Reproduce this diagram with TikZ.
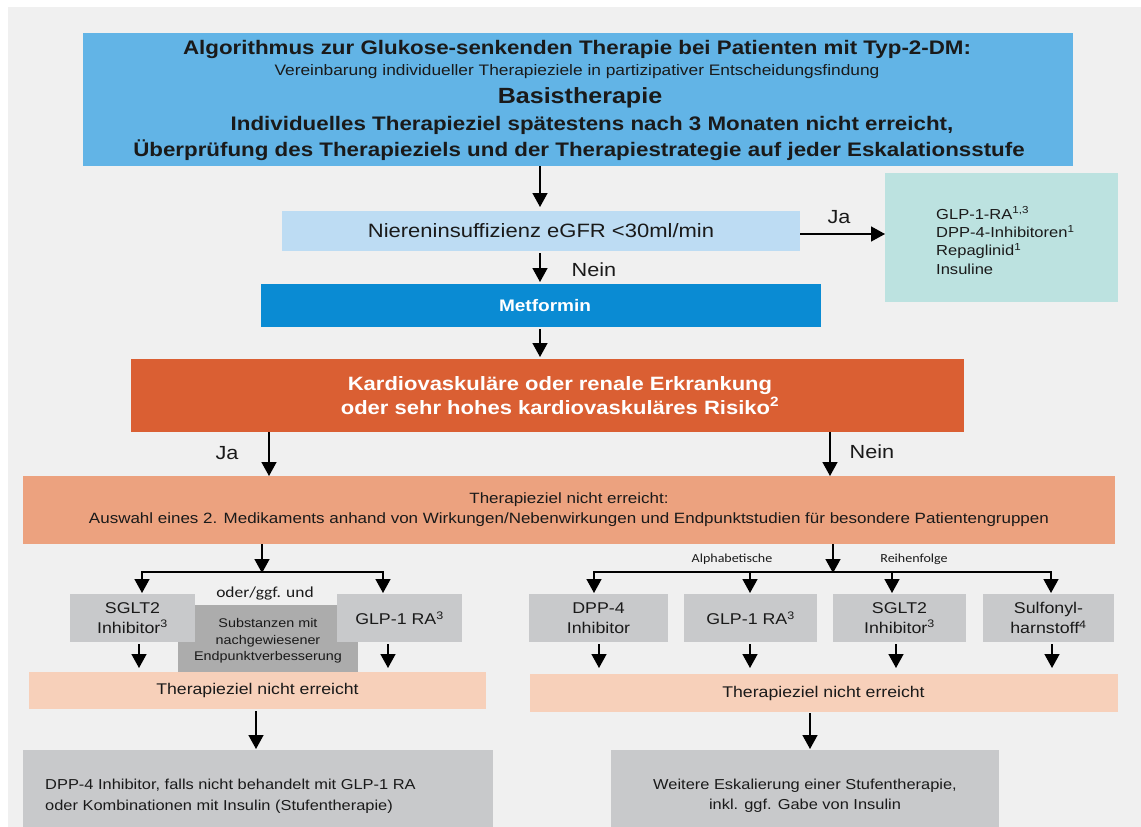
\documentclass[tikz,border=0pt]{standalone}
\usepackage{fontspec}
\setmainfont[FakeStretch=1.14]{Liberation Sans}
\newfontfamily\calibri[FakeStretch=1.14]{Carlito}
\usetikzlibrary{arrows.meta}
\definecolor{bg}{HTML}{F0F0F0}
\definecolor{topblue}{HTML}{62B4E6}
\definecolor{lightblue}{HTML}{BDDCF3}
\definecolor{teal}{HTML}{BCE2E0}
\definecolor{metblue}{HTML}{0A8BD3}
\definecolor{kardio}{HTML}{DA5F33}
\definecolor{orange}{HTML}{ECA27F}
\definecolor{boxgray}{HTML}{C8C9CB}
\definecolor{darkgray}{HTML}{ACACAC}
\definecolor{peach}{HTML}{F7D0BA}
\definecolor{ink}{HTML}{1A1A1A}
\tikzset{
  box/.style={rectangle, inner sep=0pt, outer sep=0pt, draw=none, align=center, text=ink},
  arr/.style={line width=1.5pt, draw=black, -{Triangle[width=15pt,length=14pt]}},
  ln/.style={line width=1.5pt, draw=black},
  lbl/.style={inner sep=0pt, text=ink},
}
\begin{document}
\begin{tikzpicture}[x=1pt,y=-1pt]
\useasboundingbox (0,0) rectangle (1141,827);
\fill[white] (0,0) rectangle (1141,827);
\fill[bg] (8,7) rectangle (1141,827);

% top box
\node[box, fill=topblue, minimum width=990pt, minimum height=133pt] (top) at (578,99.5) {};
\node[lbl, font=\bfseries\fontsize{19.6}{22}\selectfont] (t1) at (577,49) {Algorithmus zur Glukose-senkenden Therapie bei Patienten mit Typ-2-DM:};
\node[lbl, font=\fontsize{15.2}{17}\selectfont] (t2) at (577,72) {Vereinbarung individueller Therapieziele in partizipativer Entscheidungsfindung};
\node[lbl, font=\bfseries\fontsize{22}{24}\selectfont] (t3) at (580,98) {Basistherapie};
\node[lbl, font=\bfseries\fontsize{19.6}{22}\selectfont] (t4) at (592,125) {Individuelles Therapieziel spätestens nach 3 Monaten nicht erreicht,};
\node[lbl, font=\bfseries\fontsize{19.6}{22}\selectfont] (t5) at (579,150) {Überprüfung des Therapieziels und der Therapiestrategie auf jeder Eskalationsstufe};

% niere
\node[box, fill=lightblue, minimum width=518pt, minimum height=40pt, font=\fontsize{19.3}{22}\selectfont] (nier) at (541,231) {Niereninsuffizienz eGFR <30ml/min};
\node[box, fill=teal, minimum width=233pt, minimum height=129pt] (glp) at (1001.5,237.5) {};
\node[lbl, anchor=west, align=left, font=\fontsize{14.5}{18.3}\selectfont] (glpt) at (936,240.5) {GLP-1-RA\textsuperscript{1,3}\\DPP-4-Inhibitoren\textsuperscript{1}\\Repaglinid\textsuperscript{1}\\Insuline};

\node[box, fill=metblue, minimum width=560pt, minimum height=43pt] (met) at (541,305.5) {};
\node[lbl, text=white, font=\bfseries\fontsize{16.7}{19}\selectfont] (mett) at (545,305.5) {Metformin};

\node[box, fill=kardio, minimum width=833pt, minimum height=73pt] (kar) at (547.5,395.5) {};
\node[lbl, text=white, align=center, font=\bfseries\fontsize{19.3}{24}\selectfont] (kart) at (560,395.5) {Kardiovaskuläre oder renale Erkrankung\\oder sehr hohes kardiovaskuläres Risiko\textsuperscript{2}};

\node[box, fill=orange, minimum width=1092pt, minimum height=68pt, font=\fontsize{14.9}{20}\selectfont] (ther) at (569,510) {Therapieziel nicht erreicht:\\Auswahl eines 2. Medikaments anhand von Wirkungen/Nebenwirkungen und Endpunktstudien für besondere Patientengruppen};

% left branch
\node[box, fill=darkgray, minimum width=180pt, minimum height=67pt] (subst) at (268,638.5) {};
\node[lbl, align=center, font=\fontsize{12.6}{16.5}\selectfont] (substt) at (268,641) {Substanzen mit\\nachgewiesener\\Endpunktverbesserung};
\node[box, fill=boxgray, minimum width=125pt, minimum height=48pt, font=\fontsize{15.6}{19.5}\selectfont] (sgltL) at (132.5,618) {SGLT2\\Inhibitor\textsuperscript{3}};
\node[box, fill=boxgray, minimum width=125pt, minimum height=48pt, font=\fontsize{15.6}{19.5}\selectfont] (glpL) at (399.5,618) {GLP-1 RA\textsuperscript{3}};
\node[lbl, font=\calibri\fontsize{15.3}{17}\selectfont] (oder) at (265,593) {oder/ggf. und};
\node[box, fill=peach, minimum width=457pt, minimum height=37pt, font=\fontsize{15.5}{17}\selectfont] (therL) at (257.5,690.5) {Therapieziel nicht erreicht};
\node[box, fill=boxgray, minimum width=470pt, minimum height=77pt] (botL) at (258,788.5) {};
\node[lbl, anchor=west, align=left, font=\fontsize{14.4}{21}\selectfont] (botLt) at (45,796.5) {DPP-4 Inhibitor, falls nicht behandelt mit GLP-1 RA\\oder Kombinationen mit Insulin (Stufentherapie)};

% right branch
\node[box, fill=boxgray, minimum width=139pt, minimum height=48pt, font=\fontsize{15.6}{19.5}\selectfont] (dpp) at (598.5,618) {DPP-4\\Inhibitor};
\node[box, fill=boxgray, minimum width=133pt, minimum height=48pt, font=\fontsize{15.6}{19.5}\selectfont] (glpR) at (750.5,618) {GLP-1 RA\textsuperscript{3}};
\node[box, fill=boxgray, minimum width=133pt, minimum height=48pt, font=\fontsize{15.6}{19.5}\selectfont] (sgltR) at (899.5,618) {SGLT2\\Inhibitor\textsuperscript{3}};
\node[box, fill=boxgray, minimum width=131pt, minimum height=48pt, font=\fontsize{15.6}{19.5}\selectfont] (sulf) at (1048.5,618) {Sulfonyl-\\harnstoff\textsuperscript{4}};
\node[lbl, font=\calibri\fontsize{12.3}{14}\selectfont] (alpha) at (732,559) {Alphabetische};
\node[lbl, font=\calibri\fontsize{12.3}{14}\selectfont] (reihe) at (914,559) {Reihenfolge};
\node[box, fill=peach, minimum width=588pt, minimum height=38pt, font=\fontsize{15.5}{17}\selectfont] (therR) at (823.5,693) {Therapieziel nicht erreicht};
\node[box, fill=boxgray, minimum width=388pt, minimum height=77pt] (botR) at (805,788.5) {};
\node[lbl, align=center, font=\fontsize{14.4}{20}\selectfont] (botRt) at (805,795.5) {Weitere Eskalierung einer Stufentherapie,\\inkl. ggf. Gabe von Insulin};

% connectors top part
\draw[arr, shorten >=4pt] (top.south -| 540,0) -- (nier.north -| 540,0);
\coordinate (jaY) at (0,234);
\draw[arr] (nier.east |- jaY) -- (glp.west |- jaY);
\node[lbl, font=\fontsize{19}{21}\selectfont] (ja1) at (839,217) {Ja};
\draw[arr, shorten <=2pt, shorten >=2pt] (nier.south -| 540,0) -- (met.north -| 540,0);
\node[lbl, font=\fontsize{19}{21}\selectfont] (nein1) at (594,270) {Nein};
\draw[arr, shorten <=2pt, shorten >=2pt] (met.south -| 540,0) -- (kar.north -| 540,0);

\coordinate (jaX) at (269,0);
\coordinate (neinX) at (830,0);
\draw[arr] (kar.south -| jaX) -- (ther.north -| jaX);
\node[lbl, font=\fontsize{19}{21}\selectfont] (ja2) at (227,453) {Ja};
\draw[arr] (kar.south -| neinX) -- (ther.north -| neinX);
\node[lbl, font=\fontsize{19}{21}\selectfont] (nein2) at (872,452) {Nein};

% left split
\coordinate (lsplit) at (262,572);
\coordinate (lA) at (142,572);
\coordinate (lB) at (383,572);
\draw[arr, shorten >=-1pt] (ther.south -| lsplit) -- (lsplit);
\draw[ln] (lA) -- (lB);
\draw[arr, shorten <=-0.75pt, shorten >=1pt] (lA) -- (sgltL.north -| lA);
\draw[arr, shorten <=-0.75pt, shorten >=1pt] (lB) -- (glpL.north -| lB);
\draw[arr, shorten <=2pt, shorten >=4pt] (sgltL.south -| 139,0) -- (therL.north -| 139,0);
\draw[arr, shorten <=2pt, shorten >=4pt] (glpL.south -| 388,0) -- (therL.north -| 388,0);
\draw[arr, shorten <=2pt, shorten >=1pt] (therL.south -| 256,0) -- (botL.north -| 256,0);

% right split
\coordinate (rsplit) at (833,572);
\coordinate (rA) at (594,572);
\coordinate (rB) at (750,572);
\coordinate (rC) at (892,572);
\coordinate (rD) at (1051,572);
\draw[arr, shorten >=-1pt] (ther.south -| rsplit) -- (rsplit);
\draw[ln] (rA) -- (rD);
\draw[arr, shorten <=-0.75pt, shorten >=1pt] (rA) -- (dpp.north -| rA);
\draw[arr, shorten <=-0.75pt, shorten >=1pt] (rB) -- (glpR.north -| rB);
\draw[arr, shorten <=-0.75pt, shorten >=1pt] (rC) -- (sgltR.north -| rC);
\draw[arr, shorten <=-0.75pt, shorten >=1pt] (rD) -- (sulf.north -| rD);
\draw[arr, shorten <=2pt, shorten >=6pt] (dpp.south -| 599,0) -- (therR.north -| 599,0);
\draw[arr, shorten <=2pt, shorten >=6pt] (glpR.south -| 750,0) -- (therR.north -| 750,0);
\draw[arr, shorten <=2pt, shorten >=6pt] (sgltR.south -| 896,0) -- (therR.north -| 896,0);
\draw[arr, shorten <=2pt, shorten >=6pt] (sulf.south -| 1052,0) -- (therR.north -| 1052,0);
\draw[arr, shorten <=1pt, shorten >=1pt] (therR.south -| 810,0) -- (botR.north -| 810,0);
\end{tikzpicture}
\end{document}
